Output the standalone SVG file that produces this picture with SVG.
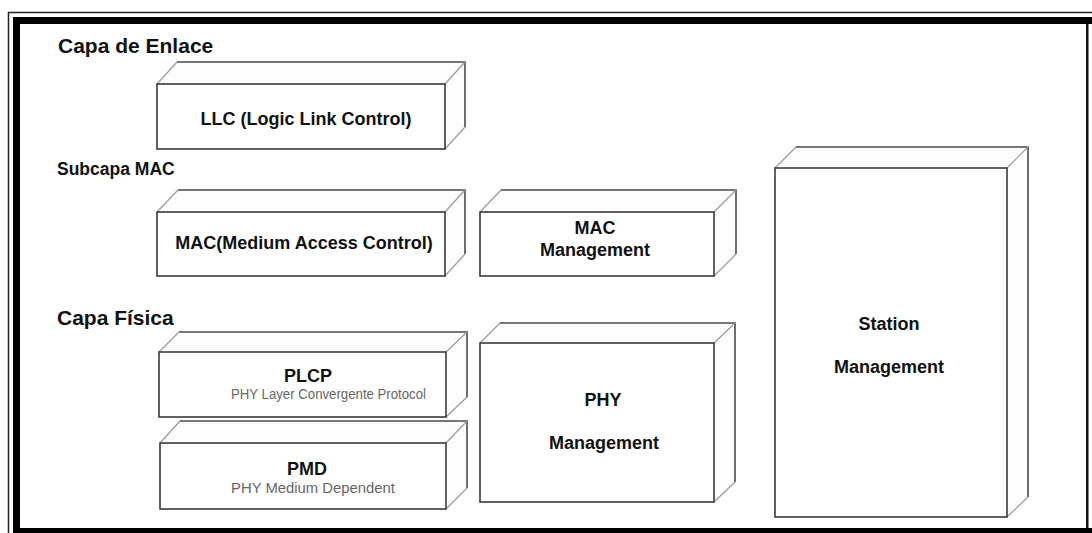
<svg xmlns="http://www.w3.org/2000/svg" width="1092" height="533" viewBox="0 0 1092 533">
  <style>
    .front { fill: #ffffff; stroke: #3a3a3a; stroke-width: 1.6; }
    .back { fill: none; stroke: #4a4a4a; stroke-width: 1.6; }
    .diag { fill: none; stroke: #9a9a9a; stroke-width: 1.2; }
    .face { fill: #fdfdfd; stroke: none; }
    .head { font-family: "Liberation Sans", Arial, sans-serif; font-weight: bold; fill: #111111; }
    .lbl { font-family: "Liberation Sans", Arial, sans-serif; font-weight: bold; font-size: 18px; fill: #111111; text-anchor: middle; }
    .sub { font-family: "Liberation Sans", Arial, sans-serif; font-size: 14px; fill: #666666; }
  </style>

  <rect x="0" y="0" width="1092" height="533" fill="#ffffff"/>

  <!-- outer frame -->
  <g id="frame">
    <path d="M8.5 533 V12.5 H1092" fill="none" stroke="#222" stroke-width="1.5"/>
    <rect x="13" y="17" width="1079" height="7" fill="#000"/>
    <rect x="13" y="17" width="7" height="516" fill="#000"/>
    <rect x="20" y="528" width="1072" height="5" fill="#000"/>
    <rect x="1086" y="24" width="2.5" height="504" fill="#111"/>
  </g>

  <!-- section headings -->
  <g id="headings">
    <text class="head" x="58" y="53" font-size="21">Capa de Enlace</text>
    <text class="head" x="57" y="175" font-size="17.5">Subcapa MAC</text>
    <text class="head" x="57" y="325" font-size="21">Capa Física</text>
  </g>

  <!-- boxes: front face, then back edges and depth diagonals -->
  <g id="llc">
    <polygon class="face" points="157,84 177,62 465,62 465,127 445,149 445,84"/>
    <path class="back" d="M177 62 H465 V127"/>
    <path class="diag" d="M157 84 L177 62 M445 84 L465 62 M445 149 L465 127"/>
    <rect class="front" x="157" y="84" width="288" height="65"/>
    <text class="lbl" x="306" y="125">LLC (Logic Link Control)</text>
  </g>

  <g id="mac">
    <polygon class="face" points="157,212 178,190 465,190 465,254 445,276 445,212"/>
    <path class="back" d="M178 190 H465 V254"/>
    <path class="diag" d="M157 212 L178 190 M445 212 L465 190 M445 276 L465 254"/>
    <rect class="front" x="157" y="212" width="288" height="64"/>
    <text class="lbl" x="304" y="249">MAC(Medium Access Control)</text>
  </g>

  <g id="mac-management">
    <polygon class="face" points="480,212 501,190 736,190 736,254 714,276 714,212"/>
    <path class="back" d="M501 190 H736 V254"/>
    <path class="diag" d="M480 212 L501 190 M714 212 L736 190 M714 276 L736 254"/>
    <rect class="front" x="480" y="212" width="234" height="64"/>
    <text class="lbl" x="595" y="234">MAC</text>
    <text class="lbl" x="595" y="256">Management</text>
  </g>

  <g id="plcp">
    <polygon class="face" points="159,352 179,332 467,332 467,397 446,417 446,352"/>
    <path class="back" d="M179 332 H467 V397"/>
    <path class="diag" d="M159 352 L179 332 M446 352 L467 332 M446 417 L467 397"/>
    <rect class="front" x="159" y="352" width="287" height="65"/>
    <text class="lbl" x="308" y="382">PLCP</text>
    <text class="sub" x="231" y="399" textLength="195" lengthAdjust="spacingAndGlyphs">PHY Layer Convergente Protocol</text>
  </g>

  <g id="pmd">
    <polygon class="face" points="160,443 180,421 467,421 467,488 446,509 446,443"/>
    <path class="back" d="M180 421 H467 V488"/>
    <path class="diag" d="M160 443 L180 421 M446 443 L467 421 M446 509 L467 488"/>
    <rect class="front" x="160" y="443" width="286" height="66"/>
    <text class="lbl" x="307" y="475">PMD</text>
    <text class="sub" x="231" y="493" textLength="164" lengthAdjust="spacingAndGlyphs">PHY Medium Dependent</text>
  </g>

  <g id="phy-management">
    <polygon class="face" points="480,343 500,323 735,323 735,482 714,502 714,343"/>
    <path class="back" d="M500 323 H735 V482"/>
    <path class="diag" d="M480 343 L500 323 M714 343 L735 323 M714 502 L735 482"/>
    <rect class="front" x="480" y="343" width="234" height="159"/>
    <text class="lbl" x="603" y="406">PHY</text>
    <text class="lbl" x="604" y="449">Management</text>
  </g>

  <g id="station-management">
    <polygon class="face" points="775,168 796,147 1028,147 1028,497 1007,517 1007,168"/>
    <path class="back" d="M796 147 H1028 V497"/>
    <path class="diag" d="M775 168 L796 147 M1007 168 L1028 147 M1007 517 L1028 497"/>
    <rect class="front" x="775" y="168" width="232" height="349"/>
    <text class="lbl" x="889" y="330">Station</text>
    <text class="lbl" x="889" y="373">Management</text>
  </g>

  <!-- no connectors in this diagram -->
  <g id="connectors"/>
</svg>
